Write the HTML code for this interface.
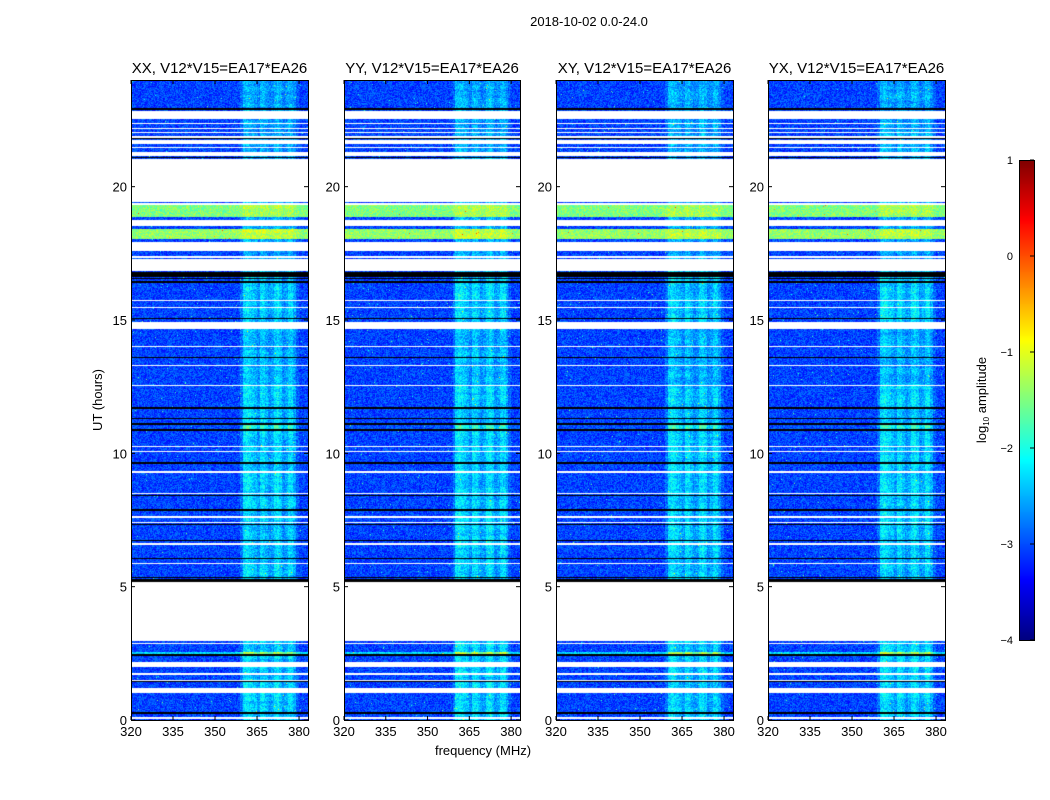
<!DOCTYPE html>
<html><head><meta charset="utf-8">
<style>
body{margin:0;background:#fff;width:1050px;height:800px;position:relative;overflow:hidden;font-family:"Liberation Sans",sans-serif}
canvas{position:absolute}
svg{position:absolute;left:0;top:0}
</style></head>
<body>
<canvas id="p0" width="177" height="640" style="left:131px;top:80px"></canvas>
<canvas id="p1" width="176" height="640" style="left:344px;top:80px"></canvas>
<canvas id="p2" width="177" height="640" style="left:556px;top:80px"></canvas>
<canvas id="p3" width="177" height="640" style="left:768px;top:80px"></canvas>
<canvas id="cb" width="15" height="480" style="left:1019px;top:160px"></canvas>
<svg id="ov" width="1050" height="800"></svg>
<script>
const panelTitles=["XX, V12*V15=EA17*EA26","YY, V12*V15=EA17*EA26","XY, V12*V15=EA17*EA26","YX, V12*V15=EA17*EA26"];
const panelLefts=[131,344,556,768];
const xTicks=[320,335,350,365,380];
const yTicks=[0,5,10,15,20];
const cbTicks=[-4,-3,-2,-1,0,1];
const baseLevel=-3.05;
const flagWhite=[[0.05,0.12],[1.0,1.2],[1.45,1.5],[1.7,1.75],[2.0,2.17],[2.85,2.9],[2.95,5.17],[5.86,5.9],[6.58,6.62],[7.38,7.42],[7.58,7.64],[8.48,8.52],[9.27,9.33],[10.05,10.09],[10.24,10.28],[12.52,12.58],[13.28,13.32],[14.0,14.04],[14.68,14.94],[15.25,15.28],[15.45,15.48],[15.7,15.74],[16.85,17.27],[17.33,17.4],[17.6,17.94],[18.54,18.76],[19.32,19.38],[19.42,21.05],[21.15,21.3],[21.45,21.48],[21.6,21.75],[21.82,21.9],[22.0,22.05],[22.15,22.2],[22.35,22.4],[22.55,22.85]];
const flagBlack=[[0.24,0.3],[1.44,1.46],[2.4,2.46],[5.17,5.3],[5.34,5.38],[6.05,6.09],[6.72,6.76],[7.3,7.34],[7.85,7.9],[8.4,8.44],[9.6,9.66],[10.84,10.9],[11.08,11.14],[11.3,11.33],[11.68,11.72],[13.58,13.62],[15.02,15.08],[16.4,16.45],[16.52,16.58],[16.62,16.8],[21.08,21.12],[21.78,21.82],[22.88,22.95]];
// later entries override earlier ones
const levelRows=[[12.6,14.7,-3.05,0.85],[17.3,24,-3.05,0.75],[18.85,19.3,-1.5,0.3],[18.05,18.43,-1.4,0.3],[10.9,11.1,-3.0,1.5],[2.46,2.55,-2.3,1.4]];
const freqStart=320;
const freqBoost=[0,0,0,0,0,0,0,0,0,0,0,0,0,0,0,0,0,0,0,0,0,0,0,0,0,0,0,0,0,0,0,0,0,0,0,0,0,0,0,
0.3,0.9,1.0,0.9,0.8,0.7,0.5,0.9,0.9,0.7,0.5,0.6,0.9,1.0,0.8,0.5,0.6,0.9,0.9,0.6,0.2,0,0,0,0];

const X0=320,X1=383.2,T0=0,T1=24,PH=640;
function jet(t){t=Math.max(0,Math.min(1,t));const c=v=>Math.round(255*Math.max(0,Math.min(1,v)));
 return [c(1.5-Math.abs(4*t-3)),c(1.5-Math.abs(4*t-2)),c(1.5-Math.abs(4*t-1))];}
function hash(i,j,p){let h=(i*374761393+j*668265263+p*982451653)|0;h=(h^(h>>>13))*1274126177|0;return ((h^(h>>>16))>>>0)/4294967296;}
function inAny(list,t){return list.some(r=>t>=r[0]&&t<r[1]);}
function valY(t){return (T1-t)/(T1-T0)*PH;}
panelLefts.forEach((L,p)=>{
 const cv=document.getElementById('p'+p);const w=cv.width;const ctx=cv.getContext('2d');
 const img=ctx.createImageData(w,PH);
 for(let y=0;y<PH;y++){
  const t=T1-(y+0.5)/PH*(T1-T0);
  const white=inAny(flagWhite,t), black=inAny(flagBlack,t);
  let lev=baseLevel,gain=1;
  levelRows.forEach(r=>{if(t>=r[0]&&t<r[1]){lev=r[2];gain=r[3];}});
  const rowVar=(hash(7,Math.floor(y/3),p)-0.5)*0.25;
  for(let x=0;x<w;x++){
   const k=(y*w+x)*4;let col;
   if(black)col=[0,0,0];else if(white)col=[255,255,255];
   else{const f=X0+(x+0.5)/w*(X1-X0);
    const b=freqBoost[Math.floor(f-freqStart)]||0;
    const n=(hash(x,y,p)-0.5)*0.65+(hash(x,y,p+7)>0.997?1.2:0);
    const v=lev+b*(gain*0.85+rowVar)+n; col=jet((v+4)/5);}
   img.data[k]=col[0];img.data[k+1]=col[1];img.data[k+2]=col[2];img.data[k+3]=255;}
 }
 ctx.putImageData(img,0,0);
});
(function(){const cv=document.getElementById('cb');const ctx=cv.getContext('2d');
 for(let y=0;y<480;y++){const c=jet(1-(y+0.5)/480);ctx.fillStyle=`rgb(${c})`;ctx.fillRect(0,y,15,1);}})();
const NS='http://www.w3.org/2000/svg';const ov=document.getElementById('ov');
function el(tag,attrs,txt){const e=document.createElementNS(NS,tag);for(const k in attrs)e.setAttribute(k,attrs[k]);if(txt!==undefined)e.textContent=txt;ov.appendChild(e);return e;}
const title=el('text',{x:589,y:26,'font-size':13,'text-anchor':'middle'},'2018-10-02 0.0-24.0');


panelLefts.forEach((L,p)=>{
 const w=p==1?176:177;
 const xs=f=>L+(f-X0)/(X1-X0)*w, ys=t=>80+valY(t);
 const fr=el('rect',{x:L+0.5,y:80.5,width:w,height:PH,fill:'none',stroke:'#000','stroke-width':1});
 
 
 const tt=el('text',{x:L+w/2,y:73,'font-size':15,'text-anchor':'middle'},panelTitles[p]);
 
 
 xTicks.forEach(f=>{const x=xs(f);
  el('line',{x1:x,x2:x,y1:720,y2:716,stroke:'#000'});el('line',{x1:x,x2:x,y1:80,y2:84,stroke:'#000'});
  const tl=el('text',{x:x,y:736,'font-size':13,'text-anchor':'middle'},String(f));
  
  });
 yTicks.forEach(t=>{const y=ys(t);
  el('line',{x1:L,x2:L+4,y1:y,y2:y,stroke:'#000'});el('line',{x1:L+w-4,x2:L+w,y1:y,y2:y,stroke:'#000'});
  const tl=el('text',{x:L-4,y:y+5,'font-size':13,'text-anchor':'end'},String(t));
  
  });
});
const xl=el('text',{x:483,y:755,'font-size':13,'text-anchor':'middle'},'frequency (MHz)');


const yl=el('text',{x:0,y:0,'font-size':13,'text-anchor':'middle',transform:'translate(102,400) rotate(-90)'},'UT (hours)');


el('rect',{x:1019.5,y:160.5,width:15,height:480,fill:'none',stroke:'#000'});
cbTicks.forEach(v=>{const y=640-(v+4)/5*480;
 el('line',{x1:1030,x2:1034,y1:y,y2:y,stroke:'#000'});
 const tl=el('text',{x:1013,y:y+4,'font-size':11,'text-anchor':'end'},v<0?'\u2212'+(-v):String(v));
 
 });
const cl=el('text',{x:0,y:0,'font-size':13,'text-anchor':'middle',transform:'translate(986,400) rotate(-90)'});


cl.innerHTML='log<tspan font-size="8" dy="3">10</tspan><tspan dy="-3"> amplitude</tspan>';
</script>
</body></html>
